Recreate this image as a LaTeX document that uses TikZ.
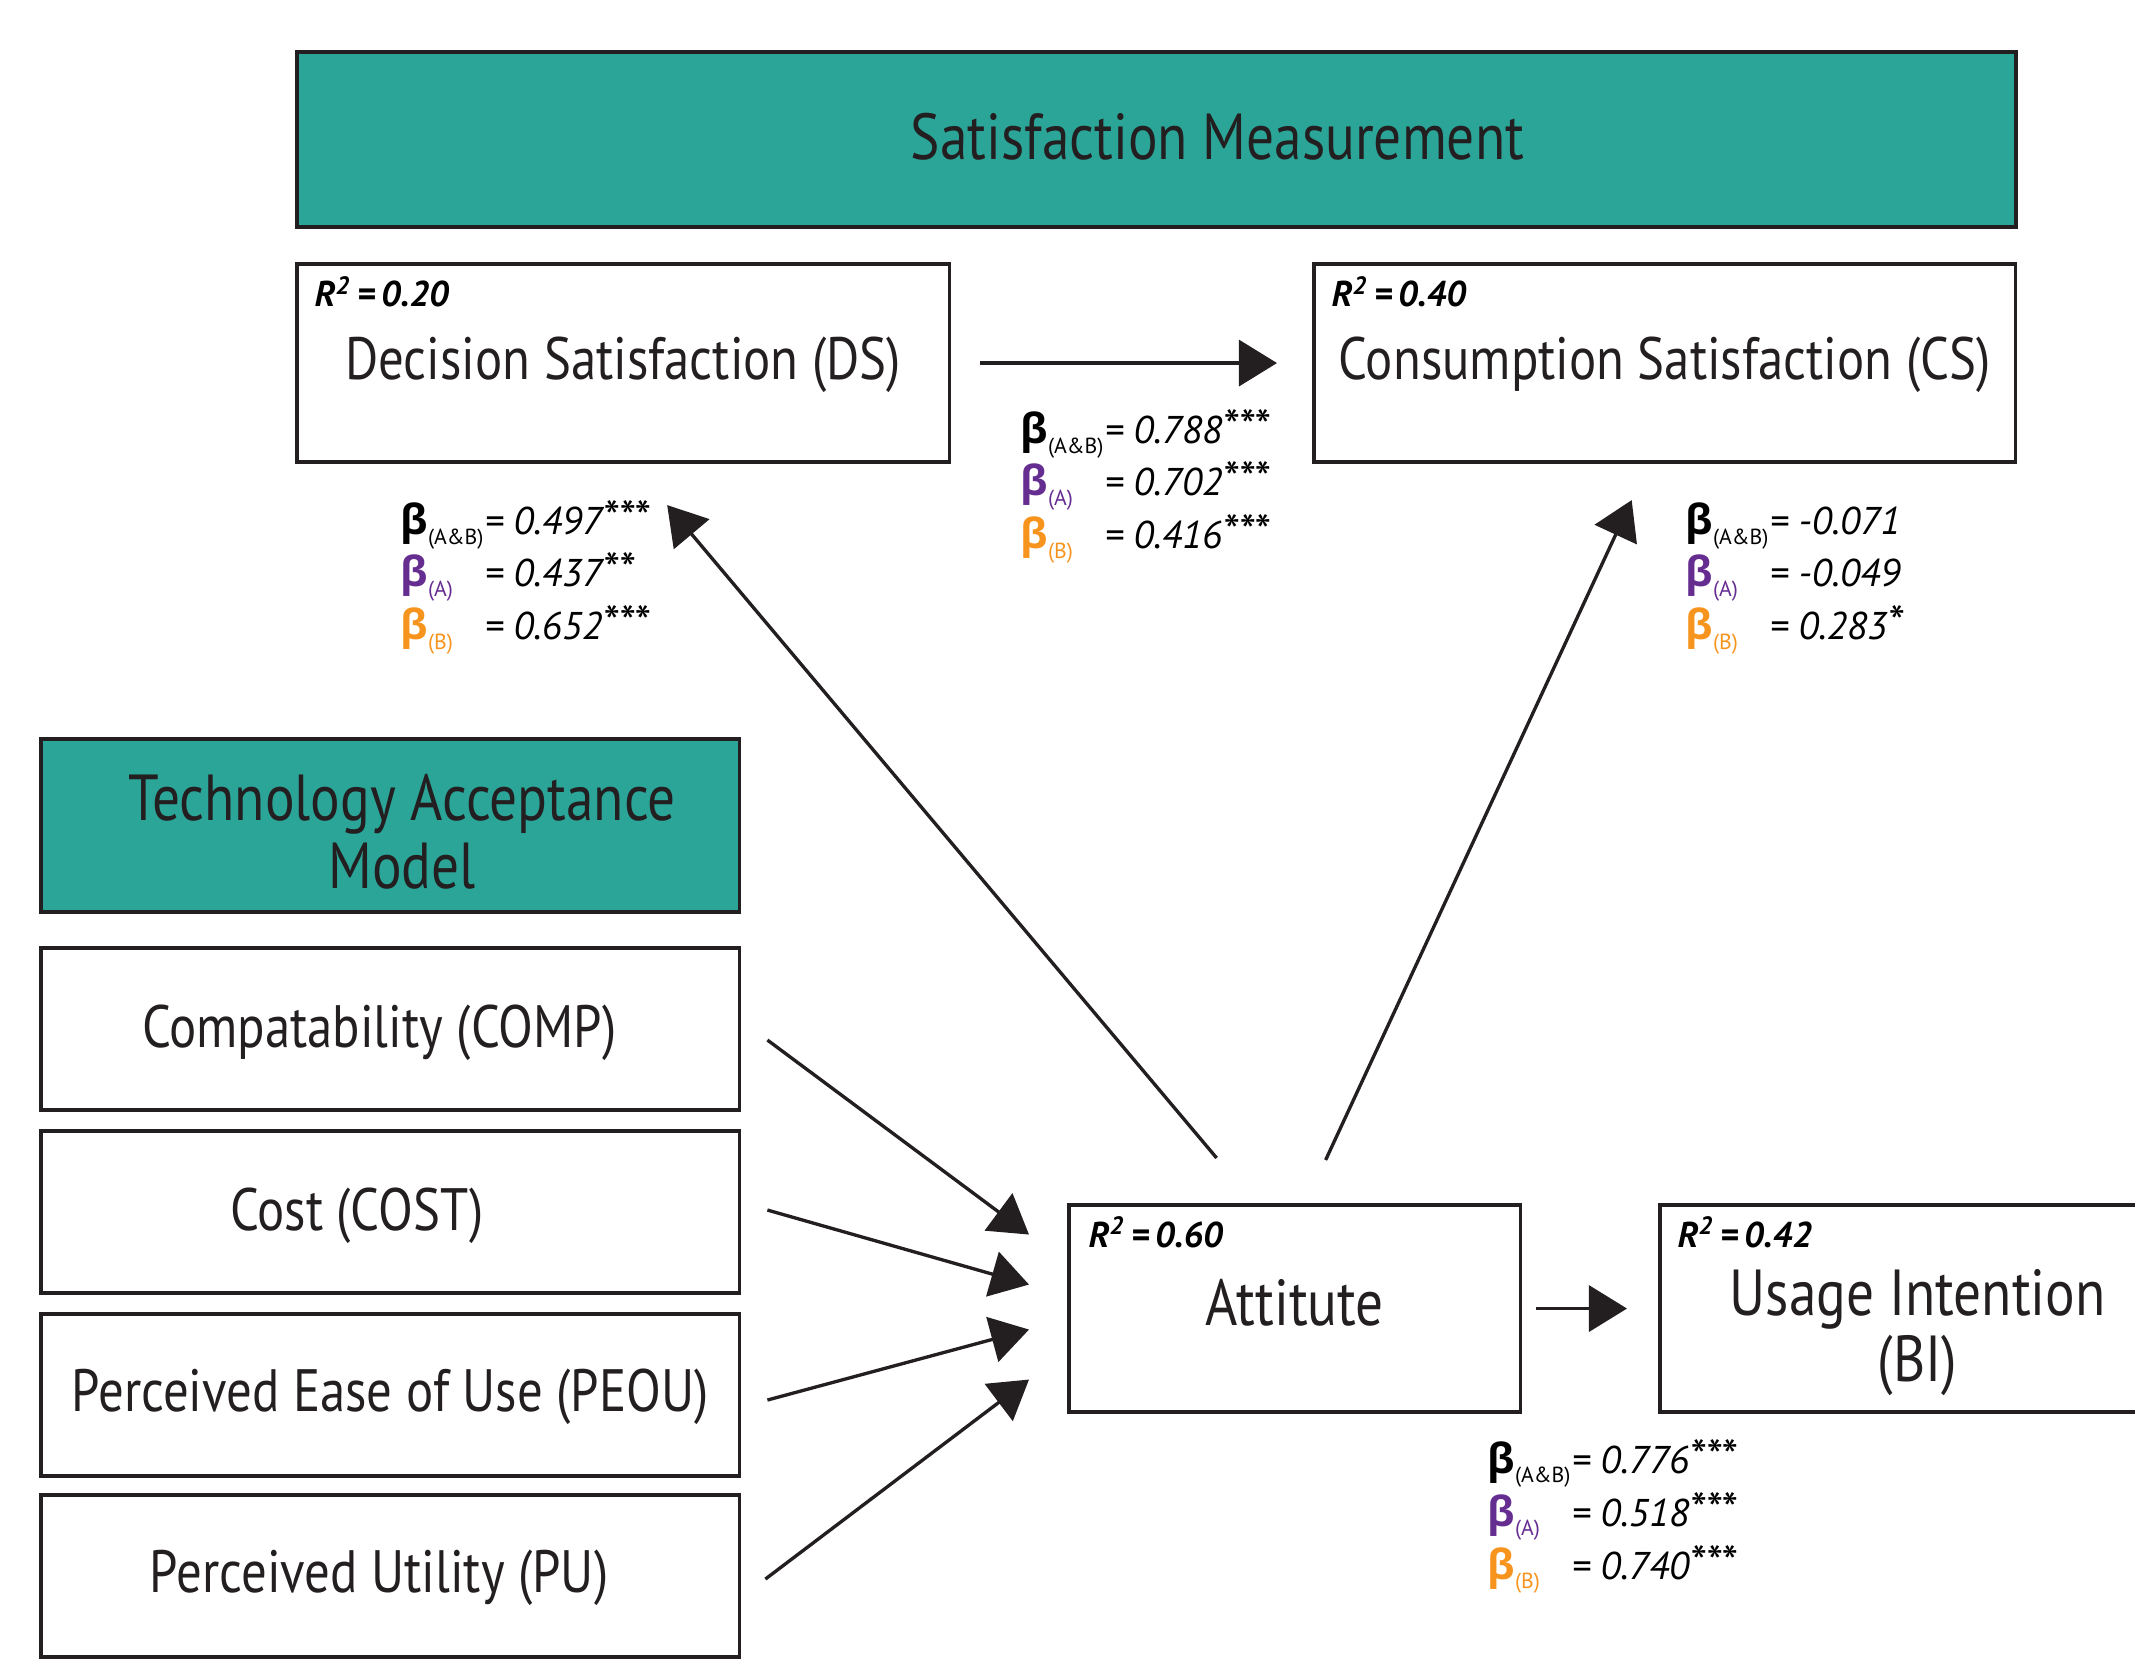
\documentclass[tikz,border=0pt]{standalone}
\usepackage{fontspec}
\setmainfont{PT Sans}
\newfontfamily\narrowfont{PT Sans}[FakeStretch=0.85]
\newfontfamily\betafont{Open Sans}
\usetikzlibrary{arrows.meta,calc}

\definecolor{ink}{HTML}{231F20}
\definecolor{tealfill}{HTML}{2CA599}
\definecolor{grpA}{HTML}{662D91}
\definecolor{grpB}{HTML}{F7941D}

% one coefficient line: beta with its group subscript, then the value and its stars
\newcommand\coefline[4]{%
  \makebox[0.84cm][l]{\textcolor{#1}{\betafont\bfseries\fontsize{11.8}{13}\selectfont β}%
    \raisebox{-2.6pt}{\textcolor{#1}{\fontsize{6.2}{7}\selectfont(#2)}}}%
  {\itshape\fontsize{11}{12}\selectfont = #3{\fontsize{13.5}{12}\selectfont#4}}}

\begin{document}
\begin{tikzpicture}[x=0.01cm, y=-0.01cm,
  box/.style={draw=ink, line width=1pt, inner sep=0pt, outer sep=0pt, anchor=north west},
  head/.style={box, fill=tealfill},
  lbl/.style={text=ink, font=\narrowfont\fontsize{17}{20}\selectfont, align=center, inner sep=0pt},
  big/.style={lbl, font=\narrowfont\fontsize{18.5}{18.6}\selectfont},
  ttl/.style={text=ink, font=\narrowfont\fontsize{18.5}{19.4}\selectfont, align=center, inner sep=0pt},
  rsq/.style={text=black, font=\fontsize{10.2}{11}\selectfont\bfseries\itshape, anchor=base west, inner sep=0pt},
  coef/.style={anchor=base west, inner sep=0pt, text=black},
  arr/.style={draw=ink, line width=0.95pt, -{Triangle[length=0.38cm,width=0.46cm]}}
]
\useasboundingbox (0,0) rectangle (2135,1664);
\clip (0,0) rectangle (2135,1664);

% headers
\node[head, minimum width=17.18cm, minimum height=1.75cm] (sat) at (297,52) {};
\node[ttl] (satT) at ($(sat.center)+(61,-3)$) {Satisfaction Measurement};
\node[head, minimum width=6.98cm, minimum height=1.73cm] (tam) at (41,739) {};
\node[ttl] (tamT) at ($(tam.center)+(12,6)$) {Technology Acceptance\\Model};

% satisfaction constructs
\node[box, minimum width=6.52cm, minimum height=1.98cm] (ds) at (297,264) {};
\node[lbl] (dsT) at ($(ds.center)+(0,2)$) {Decision Satisfaction (DS)};
\node[box, minimum width=7.01cm, minimum height=1.98cm] (cs) at (1314,264) {};
\node[lbl] (csT) at ($(cs.center)+(0,2)$) {Consumption Satisfaction (CS)};

% TAM constructs
\node[box, minimum width=6.98cm, minimum height=1.62cm] (comp) at (41,948) {};
\node[lbl] (compT) at ($(comp.center)+(-11,4)$) {Compatability (COMP)};
\node[box, minimum width=6.98cm, minimum height=1.62cm] (cost) at (41,1131) {};
\node[lbl] (costT) at ($(cost.center)+(-33,4)$) {Cost (COST)};
\node[box, minimum width=6.98cm, minimum height=1.62cm] (peou) at (41,1314) {};
\node[lbl] (peouT) at ($(peou.center)+(0,2)$) {Perceived Ease of Use (PEOU)};
\node[box, minimum width=6.98cm, minimum height=1.62cm] (pu) at (41,1495) {};
\node[lbl] (puT) at ($(pu.center)+(-11,2)$) {Perceived Utility (PU)};

% attitude and intention
\node[box, minimum width=4.51cm, minimum height=2.07cm] (att) at (1069,1205) {};
\node[big] (attT) at ($(att.center)+(0,-6)$) {Attitute};
\node[box, minimum width=5.15cm, minimum height=2.07cm] (bi) at (1660,1205) {};
\node[big] (biT) at ($(bi.center)+(0,24)$) {Usage Intention\\(BI)};

% explained variance
\node[rsq] (r2ds) at ($(ds.north west)+(17,43)$) {R\textsuperscript{2}\,=\,0.20};
\node[rsq] (r2cs) at ($(cs.north west)+(17,43)$) {R\textsuperscript{2}\,=\,0.40};
\node[rsq] (r2att) at ($(att.north west)+(19,42)$) {R\textsuperscript{2}\,=\,0.60};
\node[rsq] (r2bi) at ($(bi.north west)+(17,42)$) {R\textsuperscript{2}\,=\,0.42};

% paths
\draw[arr] ($(comp.east)+(28,11)$) -- ($(att.west)+(-40,-74)$);
\draw[arr] ($(cost.east)+(28,-2)$) -- ($(att.west)+(-40,-24)$);
\draw[arr] ($(peou.east)+(28,5)$) -- ($(att.west)+(-40,21)$);
\draw[arr] ($(pu.east)+(26,3)$) -- ($(att.west)+(-40,71)$);
\draw[arr] ($(att.north)+(-78,-47)$) -- ($(ds.south)+(44,43)$);
\draw[arr] ($(att.north)+(31,-45)$) -- ($(cs.south)+(-33,38)$);
\draw[arr] ($(ds.east)+(31,0)$) -- ($(cs.west)+(-37,0)$);
\draw[arr] ($(att.east)+(16,0)$) -- ($(bi.west)+(-33,0)$);

% path coefficients
\node[coef] (kDSab) at (400,535) {\coefline{black}{A\&B}{0.497}{***}};
\node[coef] (kDSa)  at (400,587) {\coefline{grpA}{A}{0.437}{**}};
\node[coef] (kDSb)  at (400,640) {\coefline{grpB}{B}{0.652}{***}};

\node[coef] (kSSab) at (1020,444) {\coefline{black}{A\&B}{0.788}{***}};
\node[coef] (kSSa)  at (1020,496) {\coefline{grpA}{A}{0.702}{***}};
\node[coef] (kSSb)  at (1020,549) {\coefline{grpB}{B}{0.416}{***}};

\node[coef] (kCSab) at (1685,535) {\coefline{black}{A\&B}{-0.071}{}};
\node[coef] (kCSa)  at (1685,587) {\coefline{grpA}{A}{-0.049}{}};
\node[coef] (kCSb)  at (1685,640) {\coefline{grpB}{B}{0.283}{*}};

\node[coef] (kBIab) at (1487,1473) {\coefline{black}{A\&B}{0.776}{***}};
\node[coef] (kBIa)  at (1487,1526) {\coefline{grpA}{A}{0.518}{***}};
\node[coef] (kBIb)  at (1487,1579) {\coefline{grpB}{B}{0.740}{***}};
\end{tikzpicture}
\end{document}
